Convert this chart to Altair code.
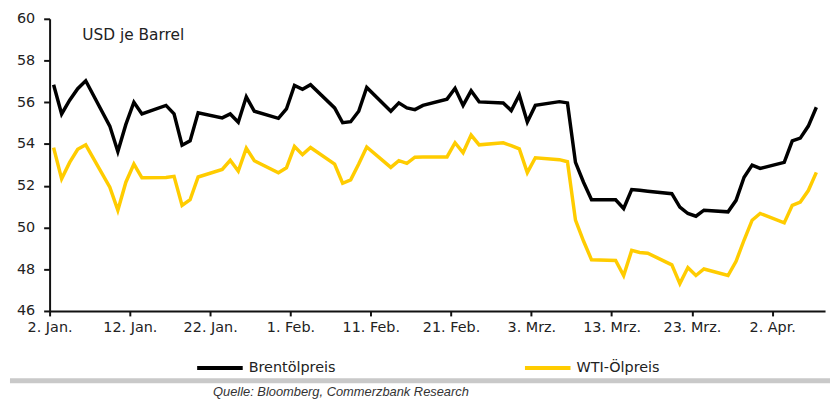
import altair as alt
import pandas as pd

# ---------------- data ----------------
dates = [
    "2017-01-02", "2017-01-03", "2017-01-04", "2017-01-05", "2017-01-06",
    "2017-01-09", "2017-01-10", "2017-01-11", "2017-01-12", "2017-01-13",
    "2017-01-16", "2017-01-17", "2017-01-18", "2017-01-19", "2017-01-20",
    "2017-01-23", "2017-01-24", "2017-01-25", "2017-01-26", "2017-01-27",
    "2017-01-30", "2017-01-31", "2017-02-01", "2017-02-02", "2017-02-03",
    "2017-02-06", "2017-02-07", "2017-02-08", "2017-02-09", "2017-02-10",
    "2017-02-13", "2017-02-14", "2017-02-15", "2017-02-16", "2017-02-17",
    "2017-02-20", "2017-02-21", "2017-02-22", "2017-02-23", "2017-02-24",
    "2017-02-27", "2017-02-28", "2017-03-01", "2017-03-02", "2017-03-03",
    "2017-03-06", "2017-03-07", "2017-03-08", "2017-03-09", "2017-03-10",
    "2017-03-13", "2017-03-14", "2017-03-15", "2017-03-16", "2017-03-17",
    "2017-03-20", "2017-03-21", "2017-03-22", "2017-03-23", "2017-03-24",
    "2017-03-27", "2017-03-28", "2017-03-29", "2017-03-30", "2017-03-31",
    "2017-04-03", "2017-04-04", "2017-04-05", "2017-04-06", "2017-04-07",
]

brent = [
    56.84, 55.44, 56.10, 56.65, 57.03,
    54.86, 53.64, 54.94, 56.00, 55.44,
    55.85, 55.45, 53.94, 54.15, 55.50,
    55.25, 55.44, 55.04, 56.26, 55.57,
    55.23, 55.68, 56.81, 56.62, 56.84,
    55.73, 55.02, 55.07, 55.57, 56.71,
    55.57, 55.97, 55.73, 55.65, 55.85,
    56.15, 56.67, 55.85, 56.55, 56.02,
    55.97, 55.60, 56.35, 55.06, 55.85,
    56.03, 55.97, 53.12, 52.17, 51.33,
    51.33, 50.91, 51.82, 51.78, 51.74,
    51.62, 50.98, 50.67, 50.54, 50.83,
    50.75, 51.30, 52.41, 52.99, 52.83,
    53.12, 54.15, 54.28, 54.86, 55.76,
]

wti = [
    53.83, 52.33, 53.12, 53.75, 53.96,
    51.93, 50.83, 52.17, 53.04, 52.38,
    52.40, 52.45, 51.06, 51.33, 52.42,
    52.78, 53.22, 52.70, 53.80, 53.20,
    52.62, 52.86, 53.88, 53.49, 53.83,
    53.04, 52.12, 52.28, 53.04, 53.86,
    52.88, 53.20, 53.07, 53.37, 53.38,
    53.38, 54.06, 53.58, 54.43, 53.96,
    54.06, 53.92, 53.77, 52.63, 53.34,
    53.25, 53.15, 50.35, 49.35, 48.45,
    48.42, 47.70, 48.90, 48.80, 48.77,
    48.21, 47.31, 48.08, 47.70, 48.01,
    47.70, 48.38, 49.40, 50.35, 50.67,
    50.22, 51.06, 51.22, 51.77, 52.64,
]

series_names = ["Brentölpreis", "WTI-Ölpreis"]
series_colors = ["#000000", "#FFCC00"]

y_ticks = [46, 48, 50, 52, 54, 56, 58, 60]
x_tick_dates = [(1, 2), (1, 12), (1, 22), (2, 1), (2, 11), (2, 21),
                (3, 3), (3, 13), (3, 23), (4, 2)]
month_labels = ["Jan.", "Feb.", "Mrz.", "Apr."]

unit_label = "USD je Barrel"
source_label = "Quelle: Bloomberg, Commerzbank Research"

# ---------------- tables ----------------
rows = []
for name, vals in zip(series_names, [brent, wti]):
    for d, v in zip(dates, vals):
        rows.append({"date": d + "T12:00:00Z", "price": v, "series": name})
df = pd.DataFrame(rows)

FONT = "DejaVu Sans"
TXT = "#222222"

month_arr = "[" + ",".join("'" + m + "'" for m in month_labels) + "]"
label_expr = "utcdate(datum.value) + '. ' + " + month_arr + "[utcmonth(datum.value)]"

x_enc = alt.X(
    "date:T",
    scale=alt.Scale(
        type="utc",
        domain=[alt.DateTime(year=2017, month=1, date=2, utc=True),
                alt.DateTime(year=2017, month=4, date=8, hours=14, utc=True)],
    ),
    axis=alt.Axis(
        title=None,
        values=[alt.DateTime(year=2017, month=m, date=d, utc=True) for m, d in x_tick_dates],
        labelExpr=label_expr,
        grid=False,
        domainColor="#111111",
        domainWidth=2,
        tickColor="#111111",
        tickWidth=2,
        tickSize=5,
        labelPadding=5,
        labelFont=FONT,
        labelFontSize=14.5,
        labelColor=TXT,
        labelFlush=False,
        labelOverlap=False,
    ),
)

y_enc = alt.Y(
    "price:Q",
    scale=alt.Scale(domain=[46, 60], nice=False, zero=False),
    axis=alt.Axis(
        title=None,
        values=y_ticks,
        grid=False,
        domainColor="#111111",
        domainWidth=2,
        tickColor="#111111",
        tickWidth=2,
        tickSize=6,
        labelPadding=9,
        labelFont=FONT,
        labelFontSize=14.5,
        labelColor=TXT,
        labelFlush=False,
    ),
)

lines = alt.Chart(df).mark_line(strokeWidth=3.5).encode(
    x=x_enc,
    y=y_enc,
    color=alt.Color(
        "series:N",
        scale=alt.Scale(domain=series_names, range=series_colors),
        legend=alt.Legend(
            title=None,
            orient="none",
            legendX=147,
            legendY=327.5,
            direction="horizontal",
            symbolType="stroke",
            symbolSize=2116,
            symbolStrokeWidth=4,
            labelFont=FONT,
            labelFontSize=14.5,
            labelColor=TXT,
            labelOffset=4,
            columnPadding=183,
            padding=0,
        ),
    ),
)

unit_text = alt.Chart(pd.DataFrame({"t": [unit_label]})).mark_text(
    align="left", baseline="alphabetic", font=FONT, fontSize=15.5, color=TXT
).encode(x=alt.value(33), y=alt.value(21), text="t:N")

source_text = alt.Chart(pd.DataFrame({"t": [source_label]})).mark_text(
    align="left", baseline="alphabetic", font="Liberation Sans", fontSize=13,
    fontStyle="italic", color="#333333"
).encode(x=alt.value(165), y=alt.value(381), text="t:N")

frame = pd.DataFrame({"k": [0]})
top_line = alt.Chart(frame).mark_rule(color="#e0e0e0", strokeWidth=1).encode(
    x=alt.value(-40), x2=alt.value(790), y=alt.value(-15.5)
)
sep_line = alt.Chart(frame).mark_rule(color="#c9c9c9", strokeWidth=5).encode(
    x=alt.value(-40), x2=alt.value(790), y=alt.value(365.5)
)

chart = alt.layer(top_line, sep_line, lines, unit_text, source_text).properties(
    width=783,
    height=295,
    padding={"left": 42, "top": 9, "right": 5, "bottom": 88},
    autosize=alt.AutoSizeParams(type="none"),
    background="white",
).configure_view(stroke=None)

chart.save("out.html", embed_options={"renderer": "svg", "actions": False})
